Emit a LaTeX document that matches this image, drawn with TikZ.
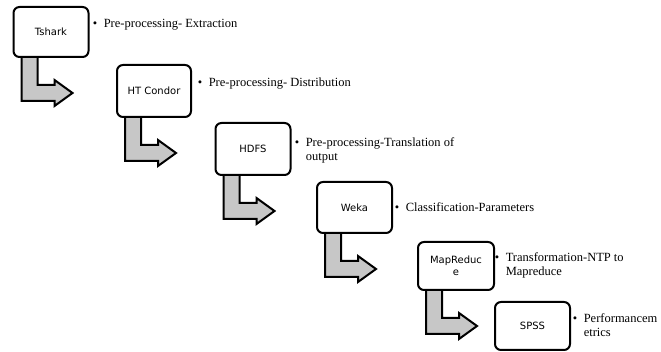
\documentclass[tikz,border=0pt]{standalone}
\usepackage{fontspec}
\usepackage{tikz}
\usetikzlibrary{calc,backgrounds}
\newfontfamily\boxfont{DejaVu Sans}
\newfontfamily\notefont{Liberation Serif}
% one bullet point beside a stage box
\newcommand{\stagenote}[1]{\begin{tabular}[t]{@{}l@{\hspace{6.5pt}}l@{}}\textbullet & #1\end{tabular}}

\begin{document}
\begin{tikzpicture}[
  x=1pt, y=-1pt,
  stepbox/.style={draw, line width=2pt, rounded corners=6pt, fill=white, align=center,
    minimum width=75pt, minimum height=50pt, inner sep=2pt,
    font=\boxfont\fontsize{10}{12}\selectfont},
  stepnote/.style={anchor=base west, inner sep=0pt, font=\notefont\fontsize{12.5}{14}\selectfont},
  flowarrow/.style={draw=black, fill=black!22, line width=2pt, line join=miter}
]
\useasboundingbox (0,0) rectangle (661,352);
% stages
\node[stepbox] (tshark) at (51,32) {Tshark};
\node[stepbox, minimum width=74pt, minimum height=52pt] (condor) at (154,91) {HT Condor};
\node[stepbox, minimum height=52pt] (hdfs) at (253,149) {HDFS};
\node[stepbox, minimum height=51pt] (weka) at (354.5,207.5) {Weka};
\node[stepbox, minimum width=76pt, minimum height=48pt] (mapreduce) at (456,266) {MapReduc\\e};
\node[stepbox, minimum height=48pt] (spss) at (532.5,326) {SPSS};
% notes
\node[stepnote] (tsharknote) at (92.7,28) {\stagenote{Pre-processing- Extraction}};
\node[stepnote] (condornote) at (197.7,86.7) {\stagenote{Pre-processing- Distribution}};
\node[stepnote] (hdfsnote) at (294.7,147) {\stagenote{Pre-processing-Translation of\\ & output}};
\node[stepnote] (wekanote) at (394.7,212) {\stagenote{Classification-Parameters}};
\node[stepnote] (mapreducenote) at (494.7,261.5) {\stagenote{Transformation-NTP to\\ & Mapreduce}};
\node[stepnote] (spssnote) at (572.7,322.5) {\stagenote{Performancem\\ & etrics}};
% bent arrows
\begin{scope}[on background layer]
\fill[white] (0,0) rectangle (661,352);
\foreach \src in {tshark,condor,hdfs,weka,mapreduce}
  \draw[flowarrow] ($(\src.south west)+(9,-4)$) -- ++(0,47) -- ++(33,0) -- ++(0,5)
    -- ++(18,-13) -- ++(-18,-13) -- ++(0,5) -- ++(-17,0) -- ++(0,-31) -- cycle;
\end{scope}
\end{tikzpicture}
\end{document}
